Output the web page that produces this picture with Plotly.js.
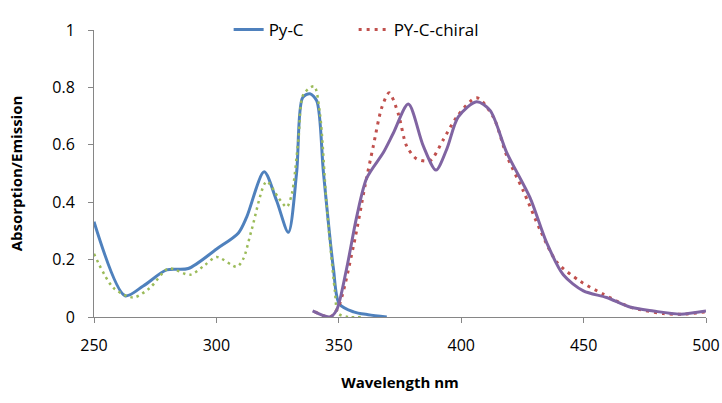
<!DOCTYPE html>
<html>
<head>
<meta charset="utf-8">
<script src="https://cdn.plot.ly/plotly-3.0.1.min.js"></script>
<style>html,body{margin:0;padding:0;background:#fff;}#chart{width:722px;height:403px;}</style>
</head>
<body>
<div id="chart"></div>
<script>
// Py-C absorption (blue solid)
const pycAbsX = [250, 262.7, 270.1, 279.7, 288.5, 300.1, 309, 312.4, 319.5, 324.6, 329.4, 332.8, 335.2, 338.2, 341, 343.7, 347.8, 350.2, 356, 362, 369.6];
const pycAbsY = [0.332, 0.074, 0.108, 0.164, 0.169, 0.237, 0.293, 0.349, 0.506, 0.405, 0.295, 0.506, 0.764, 0.778, 0.753, 0.506, 0.169, 0.046, 0.018, 0.008, 0.0];

// PY-C-chiral absorption (green dotted)
const chiralAbsX = [250, 257.9, 266.1, 272.9, 280.4, 289.2, 295.3, 300.1, 308.3, 311, 314.4, 320.5, 325.3, 328.7, 330.8, 333.5, 335.5, 339.9, 342.3, 345, 348.4, 349.8, 354, 359.3];
const chiralAbsY = [0.22, 0.102, 0.068, 0.102, 0.169, 0.147, 0.181, 0.209, 0.175, 0.203, 0.304, 0.472, 0.416, 0.383, 0.428, 0.618, 0.775, 0.804, 0.708, 0.394, 0.091, 0.012, 0.0, 0.0];

// Py-C emission (purple solid)
const pycEmX = [339.3, 346.4, 349.1, 353.2, 357.3, 361.4, 368.2, 372.3, 378.4, 384.5, 389.7, 394.1, 398.8, 406.3, 411.8, 418.6, 428.1, 434.9, 441.7, 449.9, 459.4, 468.9, 478.5, 489.4, 500];
const pycEmY = [0.021, 0.0, 0.024, 0.169, 0.349, 0.484, 0.573, 0.641, 0.742, 0.596, 0.512, 0.585, 0.697, 0.75, 0.72, 0.573, 0.416, 0.259, 0.147, 0.091, 0.068, 0.035, 0.021, 0.01, 0.021];

// PY-C-chiral emission (red dotted)
const chiralEmX = [340.3, 346.4, 349.8, 356, 360.8, 364.1, 367.6, 370.6, 374.3, 377.7, 381.8, 387.3, 392.7, 398.2, 406.3, 413.1, 418.6, 425.4, 432.2, 439, 448.5, 458, 468.9, 482.6, 491, 500];
const chiralEmY = [0.018, 0.0, 0.035, 0.248, 0.461, 0.596, 0.731, 0.781, 0.708, 0.596, 0.551, 0.545, 0.618, 0.697, 0.764, 0.697, 0.562, 0.439, 0.304, 0.192, 0.125, 0.08, 0.035, 0.012, 0.01, 0.018];

const xTicks = [250, 300, 350, 400, 450, 500];
const yTicks = [0, 0.2, 0.4, 0.6, 0.8, 1];
const yTickText = ["0", "0.2", "0.4", "0.6", "0.8", "1"];

const traces = [
  {x: pycAbsX, y: pycAbsY, name: "Py-C", mode: "lines",
   line: {color: "#4F81BD", width: 3, shape: "spline", smoothing: 0.8}},
  {x: chiralEmX, y: chiralEmY, name: "PY-C-chiral", mode: "lines",
   line: {color: "#C0504D", width: 3, dash: "3px,5px", shape: "spline", smoothing: 0.8}},
  {x: chiralAbsX, y: chiralAbsY, name: "abs chiral", mode: "lines", showlegend: false,
   line: {color: "#9BBB59", width: 2.5, dash: "2.5px,4px", shape: "spline", smoothing: 0.8}},
  {x: pycEmX, y: pycEmY, name: "em", mode: "lines", showlegend: false,
   line: {color: "#8064A2", width: 3, shape: "spline", smoothing: 0.8}}
];

const font = {family: "Open Sans, Liberation Sans, sans-serif", color: "#000"};

const layout = {
  width: 722, height: 403,
  margin: {l: 94, r: 16, t: 20, b: 86},
  paper_bgcolor: "#fff", plot_bgcolor: "#fff",
  font: Object.assign({size: 14}, font),
  showlegend: true,
  legend: {orientation: "h", x: 0.22, xanchor: "left", y: 1.0, yanchor: "middle",
           font: {size: 17, family: font.family, color: "#000"}, bgcolor: "rgba(0,0,0,0)",
           traceorder: "normal", entrywidth: 80, entrywidthmode: "pixels"},
  xaxis: {range: [250, 500], tickvals: xTicks, ticktext: xTicks.map(String),
          showgrid: false, zeroline: false, showline: true, linecolor: "#868686", linewidth: 1,
          ticks: "outside", ticklen: 5, tickcolor: "#868686", ticklabelstandoff: 9,
          tickfont: {size: 16, family: font.family, color: "#000"},
          title: {text: "Wavelength nm", standoff: 22, font: {size: 15, family: font.family, color: "#000", weight: "bold"}}},
  yaxis: {range: [0, 1], tickvals: yTicks, ticktext: yTickText,
          showgrid: false, zeroline: false, showline: true, linecolor: "#868686", linewidth: 1,
          ticks: "outside", ticklen: 5, tickcolor: "#868686", ticklabelstandoff: 10,
          tickfont: {size: 16, family: font.family, color: "#000"},
          title: {text: "Absorption/Emission", standoff: 26, font: {size: 15, family: font.family, color: "#000", weight: "bold"}}}
};

Plotly.newPlot("chart", traces, layout, {displayModeBar: false, staticPlot: true});
</script>
</body>
</html>
